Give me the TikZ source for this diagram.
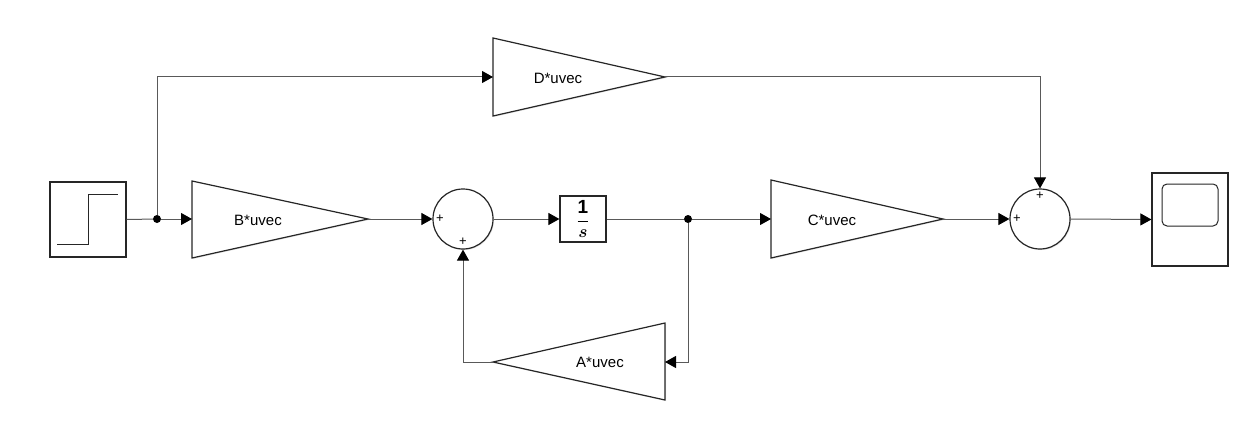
\documentclass[tikz,border=0pt]{standalone}
\usepackage{fontspec}
\setmainfont{Liberation Sans}
\usepackage{amsmath,bm}
\usetikzlibrary{arrows.meta,shadows}
\begin{document}
\begin{tikzpicture}[x=1pt,y=-1pt,
  wire/.style={draw=black!65, line width=1pt},
  sig/.style={wire, -{Triangle[length=11pt,width=12pt,color=black]}},
  block/.style={draw=black!85, line width=1.2pt, fill=white,
    drop shadow={shadow xshift=1pt, shadow yshift=-1pt, opacity=0.2}},
  lbl/.style={font=\fontsize{15}{16}\selectfont, inner sep=0pt},
  sgn/.style={font=\fontsize{13}{13}\selectfont, inner sep=0pt},
  dot/.style={circle, fill=black, inner sep=0pt, minimum size=8pt}]
\useasboundingbox (0,0) rectangle (1254,436);

% step source
\node[block, minimum width=76, minimum height=75, inner sep=0pt] (step) at (88,219.5) {};
\draw[draw=black!85, line width=1pt] (57,244) -| (88,194) -- (118,194);

% gain blocks (triangles) with their ports
\draw[block] (192,181) -- (368,219) -- (192,258) -- cycle;
\node[lbl] (B) at (258,220) {B*uvec};
\coordinate (Bin) at (192,219);
\coordinate (Bout) at (368,219);

\draw[block] (493,38) -- (665,77) -- (493,116) -- cycle;
\node[lbl] (D) at (558,78) {D*uvec};
\coordinate (Din) at (493,77);
\coordinate (Dout) at (665,77);

\draw[block] (771,180) -- (943,219) -- (771,258) -- cycle;
\node[lbl] (C) at (832,220) {C*uvec};
\coordinate (Cin) at (771,219);
\coordinate (Cout) at (943,219);

\draw[block] (665,323) -- (493,362) -- (665,400) -- cycle;
\node[lbl] (A) at (600,362) {A*uvec};
\coordinate (Ain) at (665,362);
\coordinate (Aout) at (493,362);

% sums
\node[block, circle, minimum size=60pt, inner sep=0pt] (s1) at (463,219) {};
\node[sgn] at (440,219) {+};
\node[sgn] at (463,242) {+};

\node[block, circle, minimum size=60pt, inner sep=0pt] (s2) at (1040,219) {};
\node[sgn] at (1017,219) {+};
\node[sgn] at (1040,196) {+};

% integrator
\node[block, minimum size=46pt, inner sep=0pt, font=\fontsize{19}{19}\selectfont] (int) at (583,219)
  {$\dfrac{\mathbf{1}}{\boldsymbol{s}}$};

% scope
\node[block, minimum width=76pt, minimum height=93pt, inner sep=0pt] (scope) at (1190,219.5) {};
\draw[draw=black!85, line width=1pt, rounded corners=5pt] (1162,184) rectangle (1218,226);

% branch points
\node[dot] (br1) at (157,219) {};
\node[dot] (br2) at (688,219) {};

% connections
\draw[wire] (step.east) -- (br1);
\draw[sig] (br1) -- (Bin);
\draw[sig] (br1) |- (Din);
\draw[sig] (Bout) -- (s1.west);
\draw[sig] (s1.east) -- (int.west);
\draw[wire] (int.east) -- (br2);
\draw[sig] (br2) -- (Cin);
\draw[sig] (br2) |- (Ain);
\draw[sig] (Aout) -| (s1.south);
\draw[sig] (Cout) -- (s2.west);
\draw[sig] (Dout) -| (s2.north);
\draw[sig] (s2.east) -- (scope.west);
\end{tikzpicture}
\end{document}
